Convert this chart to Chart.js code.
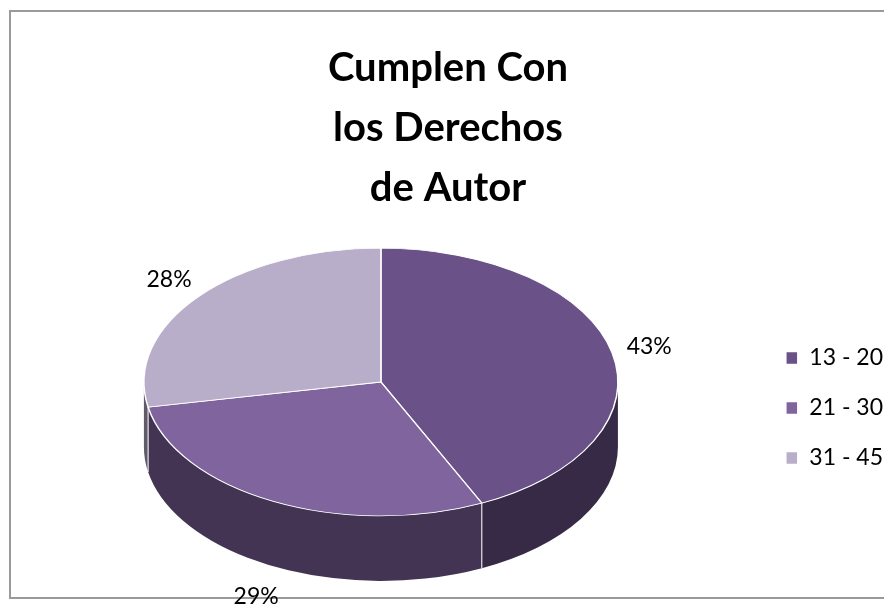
<!DOCTYPE html>
<html>
<head>
<meta charset="utf-8">
<title>Cumplen Con los Derechos de Autor</title>
<script src="https://cdn.jsdelivr.net/npm/chart.js@4.4.1/dist/chart.umd.min.js"></script>
<style>
  html, body { margin: 0; padding: 0; background: #fff; overflow: hidden; }
  #marco { position: absolute; left: 9px; top: 10px; width: 900px; height: 585px; border: 2px solid #9a9a9a; }
  #grafico { position: absolute; left: 3px; top: 0; }
</style>
</head>
<body>
<div id="marco"></div>
<canvas id="grafico" width="890" height="607"></canvas>
<script>
// Datos del gráfico
const categorias = ['13 - 20', '21 - 30', '31 - 45'];
const porcentajes = [43, 29, 28];
const colores = ['#6A5187', '#7F649E', '#B9AEC9'];
const titulo = ['Cumplen Con', 'los Derechos', 'de Autor'];

Chart.defaults.font.family = 'Lato, "Open Sans", sans-serif';
Chart.defaults.color = '#000';

// oscurece un color hex para el lateral del pastel
function oscurecer(hex, f) {
    const n = parseInt(hex.slice(1), 16);
    const r = Math.round(((n >> 16) & 255) * f);
    const g = Math.round(((n >> 8) & 255) * f);
    const b = Math.round((n & 255) * f);
    return `rgb(${r},${g},${b})`;
}

// Plugin: pastel "3D" (aplana los arcos y dibuja el lateral)
const pastel3d = {
    id: 'pastel3d',
    beforeDatasetsDraw(chart, args, opts) {
        const ctx = chart.ctx;
        const arcs = chart.getDatasetMeta(0).data;
        if (!arcs.length) return;
        const { x, y, outerRadius: r } = arcs[0];
        const k = opts.inclinacion, prof = opts.profundidad;
        const cy = y - prof * opts.elevacion;

        ctx.save();
        arcs.forEach((arc, i) => {
            const a = Math.max(arc.startAngle, 0);
            const b = Math.min(arc.endAngle, Math.PI);
            if (b <= a) return;
            ctx.beginPath();
            ctx.ellipse(x, cy, r, r * k, 0, a, b);
            ctx.ellipse(x, cy + prof, r, r * k, 0, b, a, true);
            ctx.closePath();
            ctx.fillStyle = oscurecer(colores[i], opts.sombra);
            ctx.fill();
        });
        // aristas verticales blancas entre porciones
        ctx.strokeStyle = '#fff';
        ctx.lineWidth = 1;
        arcs.forEach(arc => {
            const a = arc.startAngle;
            if (a > 0 && a < Math.PI) {
                const px = x + r * Math.cos(a), py = cy + r * k * Math.sin(a);
                ctx.beginPath();
                ctx.moveTo(px, py);
                ctx.lineTo(px, py + prof);
                ctx.stroke();
            }
        });
        ctx.restore();

        // aplanar la cara superior
        ctx.save();
        ctx.translate(0, cy);
        ctx.scale(1, k);
        ctx.translate(0, -y);
    },
    afterDatasetsDraw(chart, args, opts) {
        const ctx = chart.ctx;
        ctx.restore();
        const arcs = chart.getDatasetMeta(0).data;
        if (!arcs.length) return;
        const { x, y, outerRadius: r } = arcs[0];
        const k = opts.inclinacion, prof = opts.profundidad;
        const cy = y - prof * opts.elevacion;
        const total = porcentajes.reduce((s, v) => s + v, 0);

        ctx.save();
        ctx.font = '23px Lato, "Open Sans", sans-serif';
        ctx.fillStyle = '#000';
        ctx.textAlign = 'center';
        ctx.textBaseline = 'middle';
        arcs.forEach((arc, i) => {
            const m = (arc.startAngle + arc.endAngle) / 2;
            const s = Math.sin(m);
            const lx = x + Math.cos(m) * r * opts.etiquetaX;
            const ly = cy + s * r * k * opts.etiquetaY + (s > 0 ? prof * 1.1 : 0);
            ctx.fillText(Math.round(porcentajes[i] / total * 100) + '%', lx, ly);
        });
        ctx.restore();
    }
};

const ctx = document.getElementById('grafico').getContext('2d');
new Chart(ctx, {
    type: 'pie',
    data: {
        labels: categorias,
        datasets: [{
            data: porcentajes,
            backgroundColor: colores,
            borderColor: '#fff',
            borderWidth: 1.5,
            radius: 237,
            clip: false
        }]
    },
    options: {
        responsive: false,
        animation: false,
        layout: { padding: { bottom: 17 } },
        plugins: {
            title: {
                display: true,
                text: titulo,
                font: { size: 40, weight: 'bold', lineHeight: 1.5 },
                color: '#000',
                padding: { top: 38, bottom: 8 }
            },
            legend: {
                position: 'right',
                fullSize: false,
                labels: {
                    boxWidth: 12,
                    boxHeight: 13,
                    padding: 27,
                    color: '#000',
                    font: { size: 23 }
                }
            },
            tooltip: { enabled: false },
            pastel3d: {
                inclinacion: 0.565,
                profundidad: 65,
                elevacion: 0.4,
                sombra: 0.52,
                etiquetaX: 1.16,
                etiquetaY: 1.2
            }
        }
    },
    plugins: [pastel3d]
});
</script>
</body>
</html>
